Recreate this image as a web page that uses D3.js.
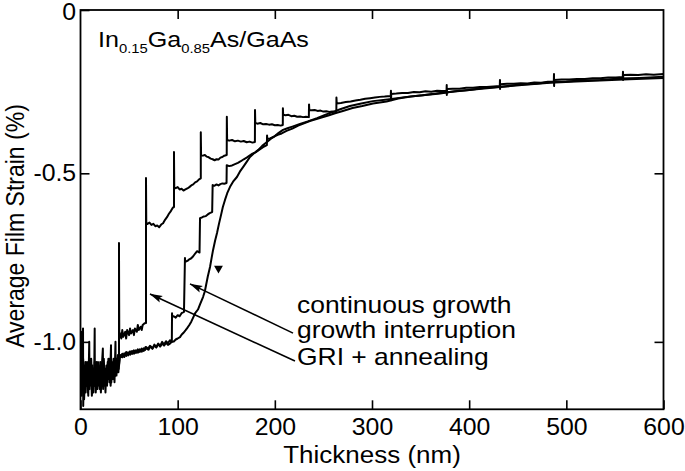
<!DOCTYPE html>
<html>
<head>
<meta charset="utf-8">
<script src="https://cdn.jsdelivr.net/npm/d3@7"></script>
<style>
  html, body { margin: 0; padding: 0; background: #fff; }
  svg { display: block; }
  text { font-family: "Liberation Sans", Arial, Helvetica, sans-serif; fill: #000; }
</style>
</head>
<body>
<script>
// ---------- DATA (thickness nm, average film strain %) ----------
const xTickValues = [0, 100, 200, 300, 400, 500, 600];
const yTickValues = [0, -0.5, -1.0];
const yTickLabels = ["0", "-0.5", "-1.0"];

const seriesNames = ["continuous growth", "growth interruption", "GRI + annealing"];

// GRI + annealing (largest relaxation steps)
const griData = [
 [0,-1.00],[0.6,-0.97],[1,-1.12],[2,-1.07],[2.6,-0.96],[2.8,-1.19],[3.5,-1.08],[4,-1.15],[5,-1.06],[6,-1.13],[7,-1.08],
 [8,-1.16],[9,-1.00],[9.3,-1.12],[10,-1.07],[11,-1.05],[12,-1.14],[13,-1.08],[14,-1.12],[14.6,-0.96],[14.8,-1.13],[16,-1.07],
 [17,-1.14],[18,-1.06],[19,-1.12],[20,-1.09],[21,-1.15],[22,-1.07],[23,-1.02],[23.3,-1.12],[24,-1.05],[25,-1.13],[26,-1.08],
 [27,-1.12],[28,-1.06],[29,-1.11],[30,-1.07],[31,-1.13],[32,-1.06],[33,-1.10],[34,-1.05],[35,-1.12],[36,-1.00],[36.3,-1.10],
 [37,-1.10],[38,-1.05],[39,-1.09],[39.6,-1.06],[39.6,-0.707],[39.9,-0.97],
 [40.5,-0.975],[42,-0.99],[43,-0.965],[44,-0.985],[46,-0.97],[47,-0.99],[48,-0.965],[50,-0.98],[51,-0.96],[52,-0.975],
 [54,-0.965],[55,-0.98],[56,-0.96],[58,-0.97],[59,-0.95],[60,-0.965],[62,-0.955],[63,-0.965],[64,-0.95],[66,-0.945],[67.4,-0.944],
 [67.4,-0.514],[67.7,-0.647],
 [69,-0.650],[71,-0.646],[73,-0.653],[75,-0.650],[77,-0.657],[79,-0.655],[81,-0.660],[83,-0.652],[85,-0.648],[87,-0.638],
 [89,-0.630],[91,-0.620],[93,-0.612],[95,-0.602],[96.2,-0.600],
 [96.2,-0.435],[96.5,-0.541],
 [98,-0.544],[100,-0.541],[102,-0.548],[104,-0.546],[106,-0.551],[108,-0.548],[110,-0.545],[112,-0.541],[114,-0.536],
 [116,-0.533],[118,-0.527],[120,-0.524],[122,-0.518],[123.8,-0.515],
 [123.8,-0.374],[124.1,-0.444],
 [126,-0.446],[128,-0.444],[130,-0.449],[132,-0.451],[134,-0.455],[136,-0.457],[138,-0.460],[140,-0.457],[142,-0.458],
 [144,-0.452],[146,-0.450],[148,-0.446],[150.5,-0.444],
 [150.6,-0.327],[150.9,-0.398],
 [153,-0.400],[156,-0.398],[159,-0.402],[162,-0.400],[165,-0.403],[168,-0.401],[171,-0.405],[174,-0.403],[177,-0.406],[179.5,-0.404],
 [179.6,-0.306],[179.9,-0.346],
 [182,-0.348],[185,-0.346],[188,-0.350],[191,-0.349],[194,-0.351],[197,-0.350],[200,-0.353],[203,-0.352],[206,-0.354],[208.2,-0.352],
 [208.3,-0.301],[208.6,-0.321],
 [211,-0.322],[214,-0.321],[217,-0.325],[220,-0.324],[223,-0.327],[226,-0.326],[229,-0.328],[232,-0.327],[235,-0.328],
 [235.2,-0.289],[235.5,-0.306],
 [238,-0.307],[241,-0.306],[244,-0.309],[247,-0.308],[250,-0.311],[253,-0.310],[256,-0.312],[259,-0.311],[263.3,-0.312],
 [263.4,-0.268],[263.7,-0.286],
 [268,-0.285],[273,-0.282],[278,-0.280],[283,-0.277],[288,-0.275],[293,-0.272],[298,-0.270],[303,-0.268],[308,-0.266],[313,-0.265],[319.3,-0.263],
 [319.5,-0.247],[319.6,-0.276],[319.8,-0.257],
 [325,-0.256],[331,-0.254],[337,-0.254],[343,-0.251],[349,-0.252],[355,-0.249],[361,-0.250],[367,-0.247],[372,-0.248],[376.7,-0.247],
 [376.9,-0.230],[377,-0.260],[377.2,-0.242],
 [383,-0.241],[390,-0.241],[397,-0.238],[404,-0.238],[411,-0.236],[418,-0.236],[425,-0.234],[431.5,-0.233],
 [431.7,-0.214],[431.8,-0.242],[432,-0.227],
 [439,-0.226],[446,-0.226],[453,-0.224],[460,-0.225],[467,-0.222],[474,-0.223],[481,-0.220],[487.1,-0.220],
 [487.3,-0.196],[487.4,-0.233],[487.6,-0.214],
 [495,-0.213],[503,-0.213],[511,-0.211],[519,-0.211],[527,-0.209],[535,-0.209],[543,-0.207],[551,-0.207],[558.1,-0.205],
 [558.3,-0.189],[558.4,-0.214],[558.6,-0.199],
 [566,-0.198],[574,-0.199],[582,-0.197],[590,-0.198],[600,-0.196]
];

// growth interruption
const interruptionData = [
 [0.3,-1.05],[1.3,-1.16],[2.3,-1.09],[3.3,-1.13],[4.3,-1.07],[5.3,-1.15],[6.3,-1.08],[7.3,-1.12],[8.3,-1.06],[9.3,-1.14],
 [10.3,-1.09],[11.3,-1.13],[12.3,-1.07],[13.3,-1.15],[14.3,-1.08],[15.3,-1.12],[16.3,-1.06],[17.3,-1.14],[18.3,-1.09],[19.3,-1.13],
 [20.3,-1.06],[21.3,-1.11],[22.3,-1.08],[23.3,-1.14],[24.3,-1.07],[25.3,-1.12],[26.3,-1.09],[27.3,-1.13],[28.3,-1.07],[29.3,-1.10],
 [30.3,-1.05],[31.3,-1.12],[32.3,-1.08],[33.3,-1.11],[34.3,-1.06],[35.3,-1.10],[36.3,-1.05],[37.3,-1.09],[38.3,-1.04],[39.3,-1.08],[40.3,-1.04],
 [41.7,-1.045],[43,-1.035],[45,-1.045],[47,-1.03],[49,-1.04],[51,-1.028],[53,-1.036],[55,-1.025],[57,-1.033],[59,-1.022],
 [61,-1.03],[63,-1.02],[65,-1.027],[67,-1.015],[69,-1.022],[71.5,-1.012],[74,-1.02],[76,-1.008],[78,-1.015],[80,-1.005],
 [82,-1.012],[84,-1.0],[86,-1.008],[88,-0.998],[90,-1.004],[92,-0.995],[94,-1.0],
 [94.2,-0.915],[94.4,-0.926],
 [96,-0.924],[98,-0.928],[100,-0.921],[102,-0.924],[104,-0.915],[106.5,-0.911],
 [107.5,-0.751],[107.8,-0.763],
 [110,-0.760],[112,-0.755],[114,-0.752],[116,-0.746],[118,-0.738],[120,-0.731],[122.5,-0.735],
 [123,-0.633],
 [125,-0.631],[127,-0.628],[129,-0.627],[131,-0.622],[133,-0.618],[135.5,-0.615],
 [136,-0.535],
 [138,-0.537],[140,-0.533],[142,-0.536],[144,-0.532],[146,-0.530],[148,-0.531],[150.3,-0.529],
 [150.5,-0.475],
 [153,-0.478],[156,-0.476],[159,-0.472],[162,-0.468],[165,-0.463],[168,-0.457],[171,-0.452],[174,-0.446],[177,-0.440],
 [180,-0.436],[183,-0.430],[186,-0.424],[189,-0.418],[191.8,-0.414],
 [192,-0.384],[192.2,-0.395],
 [195,-0.393],[199,-0.388],[203,-0.382],[207,-0.378],[212,-0.370],[218,-0.363],[224,-0.354],[230,-0.347],[236,-0.340],
 [242,-0.335],[248,-0.329],[255,-0.323],[262,-0.316],[270,-0.309],[280,-0.300],[290,-0.294],[301,-0.286],[315,-0.280],
 [327,-0.271],[340,-0.265],[355,-0.260],[370,-0.256],[385,-0.249],[400,-0.245],[415,-0.239],[432,-0.235],[450,-0.229],
 [468,-0.226],[483,-0.221],[500,-0.219],[518,-0.215],[535,-0.214],[555,-0.210],[575,-0.208],[600,-0.204]
];

// continuous growth (smooth relaxation)
const continuousData = [
 [0.7,-1.09],[1.7,-1.14],[2.7,-1.05],[3.7,-1.17],[4.7,-1.10],[5.7,-1.13],[6.7,-1.06],[7.7,-1.15],[8.7,-1.09],[9.7,-1.12],
 [10.7,-1.07],[11.7,-1.16],[12.7,-1.10],[13.7,-1.13],[14.7,-1.06],[15.7,-1.15],[16.7,-1.09],[17.7,-1.12],[18.7,-1.07],[19.7,-1.14],
 [20.7,-1.10],[21.7,-1.13],[22.7,-1.06],[23.7,-1.12],[24.7,-1.08],[25.7,-1.15],[26.7,-1.07],[27.7,-1.11],[28.7,-1.05],[29.7,-1.12],
 [30.7,-1.08],[31.4,-1.01],[31.7,-1.12],[32.7,-1.07],[33.7,-1.11],[34.7,-1.06],[35.7,-1.10],[36.7,-1.05],[37.7,-1.09],[38.7,-1.04],[39.7,-1.07],
 [40.8,-1.039],[43,-1.046],[45,-1.034],[47,-1.042],[49,-1.031],[51,-1.038],[53,-1.027],[55,-1.035],[57,-1.025],[59,-1.032],
 [61,-1.022],[63,-1.029],[65,-1.019],[66.4,-1.024],[68,-1.016],[70,-1.023],[72,-1.013],[74,-1.02],[76,-1.011],[78,-1.017],
 [80,-1.007],[82,-1.014],[84,-1.005],[86,-1.011],[88,-1.003],[90,-1.009],[92.1,-1.005],[94,-1.0],[96,-0.999],[98,-0.993],
 [100,-0.990],[102.4,-0.986],[104,-0.979],[106,-0.973],[108,-0.966],[109.6,-0.960],[112,-0.950],[114,-0.940],[115.8,-0.929],
 [118,-0.915],[120.9,-0.904],[123,-0.889],[126.1,-0.867],[128,-0.850],[129.2,-0.832],[131,-0.806],[133.3,-0.778],[135,-0.750],
 [136.4,-0.728],[138.5,-0.700],[140.5,-0.677],[142.5,-0.650],[144.6,-0.624],[146.5,-0.600],[148.7,-0.579],[151,-0.559],
 [153.9,-0.540],[157,-0.525],[161,-0.511],[164,-0.495],[167.3,-0.481],[171,-0.465],[174.4,-0.450],[178,-0.440],[182.7,-0.429],
 [187,-0.416],[191.9,-0.404],[196,-0.394],[200,-0.386],[204,-0.376],[208.4,-0.367],[213,-0.362],[218,-0.357],[225.9,-0.349],
 [234,-0.341],[243.4,-0.331],[251,-0.322],[259.9,-0.312],[268,-0.303],[277.3,-0.294],[289,-0.286],[301,-0.279],[318,-0.273],
 [336,-0.266],[352,-0.261],[370,-0.254],[390,-0.248],[410,-0.242],[431.7,-0.236],[457,-0.229],[483.2,-0.223],[510,-0.219],
 [534.6,-0.216],[565,-0.212],[600,-0.208]
];

// ---------- CHART ----------
const W = 685, H = 471;
const svg = d3.select("body").append("svg").attr("width", W).attr("height", H);

const x = d3.scaleLinear().domain([0, 600]).range([80.5, 663.5]);
const y = d3.scaleLinear().domain([-1.2, -0.5, 0]).range([409.3, 173.3, 10]);

const [x0, x1] = x.range();
const yTop = y(0), yBot = y(-1.2);

const defs = svg.append("defs");
defs.append("clipPath").attr("id", "plotclip")
  .append("rect").attr("x", x0).attr("y", yTop).attr("width", x1 - x0).attr("height", yBot - yTop);

defs.append("marker").attr("id", "arrowhead")
  .attr("viewBox", "0 0 13 8").attr("refX", 12.5).attr("refY", 4)
  .attr("markerWidth", 13).attr("markerHeight", 8)
  .attr("markerUnits", "userSpaceOnUse").attr("orient", "auto")
  .append("path").attr("d", "M0,0.3 L13,4 L0,7.7 L2.5,4 Z").attr("fill", "#000");

const line = d3.line().x(d => x(d[0])).y(d => y(d[1]));

const plot = svg.append("g").attr("clip-path", "url(#plotclip)");
[continuousData, interruptionData, griData].forEach(series => {
  plot.append("path").datum(series)
    .attr("d", line)
    .attr("fill", "none")
    .attr("stroke", "#000")
    .attr("stroke-width", 2)
    .attr("stroke-linejoin", "round");
});

// axes (ticks pointing inward)
const styleAxis = g => {
  g.select(".domain").remove();
  g.selectAll(".tick line").attr("stroke", "#000").attr("stroke-width", 1.6);
  g.selectAll(".tick text").attr("font-size", 23).attr("fill", "#000")
    .attr("font-family", '"Liberation Sans", Arial, sans-serif');
};

svg.append("g").attr("transform", `translate(0,${yBot})`)
  .call(d3.axisBottom(x).tickValues(xTickValues).tickSizeInner(-9).tickSizeOuter(0).tickPadding(9).tickFormat(d3.format("d")))
  .call(styleAxis)
  .call(g => g.selectAll(".tick text").attr("transform", "scale(1.08,1)"));

svg.append("g").attr("transform", `translate(${x0},0)`)
  .call(d3.axisLeft(y).tickValues(yTickValues).tickFormat((d, i) => yTickLabels[i]).tickSizeInner(-9).tickSizeOuter(0).tickPadding(4))
  .call(styleAxis)
  .call(g => g.selectAll(".tick text").attr("transform", "scale(1.08,1)"))
  .call(g => g.selectAll(".tick text").filter(d => d === 0).attr("dy", "0.42em"));

svg.append("g").attr("transform", `translate(0,${yTop})`)
  .call(d3.axisTop(x).tickValues(xTickValues.slice(1, -1)).tickSizeInner(-9).tickSizeOuter(0).tickFormat(""))
  .call(styleAxis);

svg.append("g").attr("transform", `translate(${x1},0)`)
  .call(d3.axisRight(y).tickValues(yTickValues.slice(1)).tickSizeInner(-9).tickSizeOuter(0).tickFormat(""))
  .call(styleAxis);

// frame
svg.append("rect").attr("x", x0).attr("y", yTop).attr("width", x1 - x0).attr("height", yBot - yTop)
  .attr("fill", "none").attr("stroke", "#000").attr("stroke-width", 1.8);

// axis titles
svg.append("text")
  .attr("transform", `translate(${(x0 + x1) / 2},463) scale(1.13,1)`)
  .attr("text-anchor", "middle").attr("font-size", 23)
  .text("Thickness (nm)");

svg.append("text")
  .attr("transform", `translate(24,226) scale(1.13,1) rotate(-90)`)
  .attr("text-anchor", "middle").attr("font-size", 23)
  .text("Average Film Strain (%)");

// sample label
const title = svg.append("text")
  .attr("transform", "translate(98,47) scale(1.14,1)")
  .attr("font-size", 22);
title.append("tspan").text("In");
title.append("tspan").attr("font-size", 13).attr("dy", 6).text("0.15");
title.append("tspan").attr("dy", -6).text("Ga");
title.append("tspan").attr("font-size", 13).attr("dy", 6).text("0.85");
title.append("tspan").attr("dy", -6).text("As/GaAs");

// annotations: labels and arrows (anchored in data coordinates)
const labelT = 222.8;
const labelS = [-0.915, -0.989, -1.069];
seriesNames.forEach((name, i) => {
  svg.append("text")
    .attr("transform", `translate(${x(labelT)},${y(labelS[i])}) scale(1.15,1)`)
    .attr("font-size", 23)
    .text(name);
});

const arrows = [
  { from: [218.7, -0.974], to: [112.7, -0.828] }, // growth interruption
  { from: [220.7, -1.057], to: [71.5, -0.858] }   // GRI + annealing
];
arrows.forEach(a => {
  svg.append("line")
    .attr("x1", x(a.from[0])).attr("y1", y(a.from[1]))
    .attr("x2", x(a.to[0])).attr("y2", y(a.to[1]))
    .attr("stroke", "#000").attr("stroke-width", 1.6)
    .attr("marker-end", "url(#arrowhead)");
});

// downward triangle marking the continuous-growth curve
svg.append("path")
  .attr("d", d3.symbol().type(d3.symbolTriangle).size(34)())
  .attr("transform", `translate(${x(142.0)},${y(-0.782)}) rotate(180)`)
  .attr("fill", "#000");
</script>
</body>
</html>
